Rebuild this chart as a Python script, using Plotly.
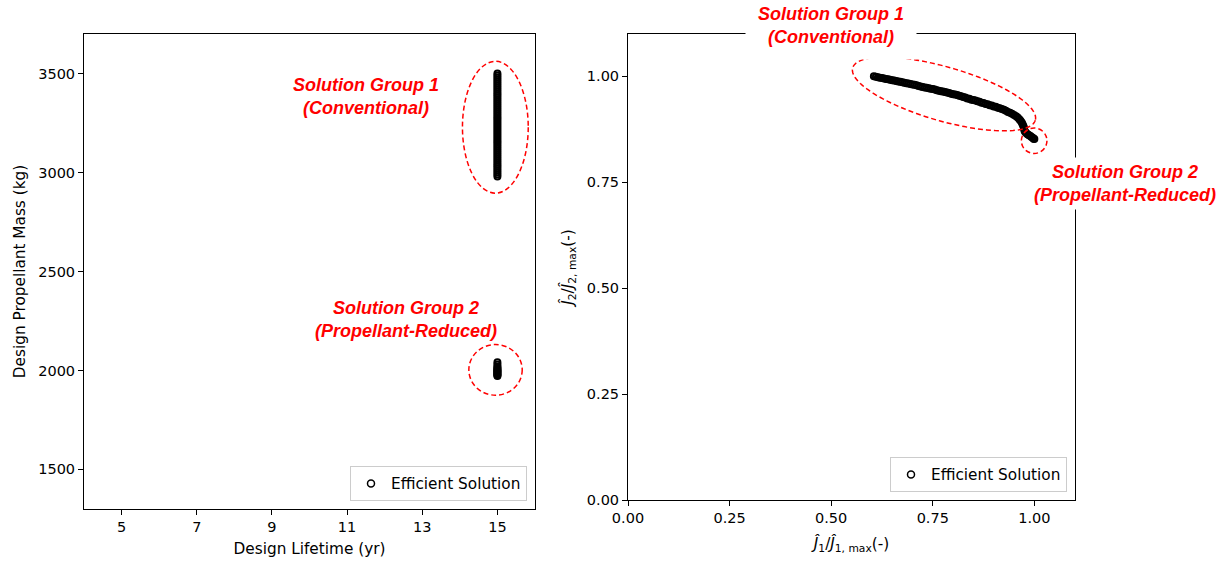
import numpy as np
import plotly.graph_objects as go

# ---------------- data ----------------
# Left panel: design lifetime (yr) vs design propellant mass (kg)
g1_mass = [2980, 2990, 3000, 3010, 3020, 3030, 3040, 3050, 3060, 3070, 3080, 3090,
           3100, 3110, 3120, 3130, 3140, 3150, 3160, 3170, 3180, 3190, 3200, 3210,
           3220, 3230, 3240, 3250, 3260, 3270, 3280, 3290, 3300, 3310, 3320, 3330,
           3340, 3350, 3360, 3370, 3380, 3390, 3400, 3410, 3420, 3430, 3440, 3450,
           3460, 3470, 3480, 3490, 3500]
g1_life = [15] * len(g1_mass)
g2_mass = [1972, 1976, 1980, 1984, 1988, 1992, 1996, 2000, 2004, 2009, 2014, 2020,
           2030, 2041]
g2_life = [15] * len(g2_mass)

# Right panel: normalised objectives
g1_j1 = [0.605, 0.610, 0.615, 0.620, 0.625, 0.630, 0.635, 0.640, 0.645, 0.650,
         0.655, 0.660, 0.665, 0.670, 0.675, 0.680, 0.685, 0.690, 0.695, 0.700,
         0.705, 0.710, 0.715, 0.720, 0.725, 0.730, 0.735, 0.740, 0.745, 0.750,
         0.755, 0.760, 0.765, 0.770, 0.775, 0.780, 0.785, 0.790, 0.795, 0.800,
         0.805, 0.810, 0.815, 0.820, 0.825, 0.830, 0.835, 0.840, 0.845, 0.850,
         0.855, 0.860, 0.865, 0.870, 0.875, 0.880, 0.885, 0.890, 0.895, 0.900,
         0.905, 0.910, 0.915, 0.920, 0.925, 0.930, 0.935, 0.940, 0.945, 0.950,
         0.955, 0.959, 0.963, 0.966, 0.969, 0.971, 0.973, 0.974, 0.975, 0.976,
         0.978]
g1_j2 = [1.000, 0.999, 0.998, 0.997, 0.996, 0.995, 0.994, 0.993, 0.992, 0.991,
         0.990, 0.989, 0.988, 0.987, 0.986, 0.985, 0.984, 0.983, 0.982, 0.981,
         0.980, 0.979, 0.977, 0.976, 0.975, 0.974, 0.973, 0.972, 0.971, 0.970,
         0.969, 0.967, 0.966, 0.965, 0.964, 0.963, 0.962, 0.961, 0.959, 0.958,
         0.957, 0.956, 0.954, 0.953, 0.951, 0.950, 0.948, 0.947, 0.945, 0.944,
         0.943, 0.941, 0.940, 0.938, 0.937, 0.935, 0.934, 0.932, 0.931, 0.929,
         0.928, 0.926, 0.925, 0.923, 0.921, 0.919, 0.916, 0.914, 0.912, 0.909,
         0.906, 0.903, 0.899, 0.895, 0.891, 0.887, 0.883, 0.879, 0.875, 0.871,
         0.868]
g2_j1 = [0.981, 0.984, 0.987, 0.990, 0.993, 0.996, 0.998, 1.000]
g2_j2 = [0.865, 0.863, 0.861, 0.859, 0.857, 0.855, 0.853, 0.852]

x_ticks_left = [5, 7, 9, 11, 13, 15]
y_ticks_left = [1500, 2000, 2500, 3000, 3500]
ticks_right = [0.0, 0.25, 0.5, 0.75, 1.0]
tick_text_right = ["0.00", "0.25", "0.50", "0.75", "1.00"]

legend_name = "Efficient Solution"
lbl_g1 = "<b><i>Solution Group 1<br>(Conventional)</i></b>"
lbl_g2 = "<b><i>Solution Group 2<br>(Propellant-Reduced)</i></b>"

# ---------------- figure ----------------
W, H = 1227, 562
FONT = "DejaVu Sans"
RED = "#ff0000"
TICK_SIZE = 14.5
TITLE_SIZE = 15.3


def px_x(p):
    return p / W


def px_y(p):
    return 1 - p / H


fig = go.Figure()
mk_data = dict(symbol="circle-open", size=6, color="black",
               line=dict(width=2, color="black"))
mk_leg = dict(symbol="circle-open", size=7, color="black",
              line=dict(width=1.5, color="black"))

# data traces
fig.add_trace(go.Scatter(x=g1_life + g2_life, y=g1_mass + g2_mass, mode="markers",
                         marker=mk_data, name=legend_name, xaxis="x", yaxis="y",
                         showlegend=False, legend="legend"))
fig.add_trace(go.Scatter(x=g1_j1 + g2_j1, y=g1_j2 + g2_j2, mode="markers",
                         marker=mk_data, name=legend_name, xaxis="x2", yaxis="y2",
                         showlegend=False, legend="legend2"))
# legend entries
fig.add_trace(go.Scatter(x=[None], y=[None], mode="markers", marker=mk_leg,
                         name=legend_name, xaxis="x", yaxis="y", legend="legend"))
fig.add_trace(go.Scatter(x=[None], y=[None], mode="markers", marker=mk_leg,
                         name=legend_name, xaxis="x2", yaxis="y2", legend="legend2"))

ax_common = dict(showline=True, linecolor="black", linewidth=1, mirror=True,
                 ticks="outside", ticklen=5, tickwidth=1, tickcolor="black",
                 showgrid=False, zeroline=False, automargin=False,
                 tickfont=dict(family=FONT, size=TICK_SIZE, color="black"))
title_font = dict(family=FONT, size=TITLE_SIZE, color="black")

fig.update_layout(
    width=W, height=H,
    margin=dict(l=0, r=0, t=0, b=0),
    paper_bgcolor="white", plot_bgcolor="white",
    font=dict(family=FONT, size=TICK_SIZE, color="black"),
    xaxis=dict(domain=[px_x(84), px_x(535)], range=[4, 16], tickvals=x_ticks_left,
               anchor="y",
               title=dict(text="Design Lifetime (yr)", standoff=8, font=title_font),
               **ax_common),
    yaxis=dict(domain=[px_y(509), px_y(34)], range=[1300, 3700], tickvals=y_ticks_left,
               anchor="x",
               title=dict(text="Design Propellant Mass (kg)", standoff=8,
                          font=title_font), **ax_common),
    xaxis2=dict(domain=[px_x(628), px_x(1075)], range=[0, 1.1], tickvals=ticks_right,
                ticktext=tick_text_right, anchor="y2",
                title=dict(text="<i>Ĵ</i><sub>1</sub>/<i>Ĵ</i><sub>1, max</sub>(-)",
                           standoff=12, font=title_font), **ax_common),
    yaxis2=dict(domain=[px_y(500), px_y(34)], range=[0, 1.1], tickvals=ticks_right,
                ticktext=tick_text_right, anchor="x2",
                title=dict(text="<i>Ĵ</i><sub>2</sub>/<i>Ĵ</i><sub>2, max</sub>(-)",
                           standoff=9, font=title_font), **ax_common),
    legend=dict(x=px_x(527), y=px_y(501), xanchor="right", yanchor="bottom",
                bgcolor="rgba(255,255,255,0.8)", bordercolor="#cccccc", borderwidth=1,
                font=dict(family=FONT, size=TITLE_SIZE), itemwidth=30),
    legend2=dict(x=px_x(1067), y=px_y(492), xanchor="right", yanchor="bottom",
                 bgcolor="rgba(255,255,255,0.8)", bordercolor="#cccccc", borderwidth=1,
                 font=dict(family=FONT, size=TITLE_SIZE), itemwidth=30),
)

dash_line = dict(color=RED, width=1.5, dash="5px,3px")

# left ellipses (axis-aligned)
fig.add_shape(type="circle", xref="x", yref="y", x0=14.07, x1=15.82, y0=2896, y1=3562,
              line=dash_line)
fig.add_shape(type="circle", xref="x", yref="y", x0=14.24, x1=15.66, y0=1875, y1=2131,
              line=dash_line)
# right small circle
fig.add_shape(type="circle", xref="x2", yref="y2", x0=0.968, x1=1.031, y0=0.818, y1=0.878,
              line=dash_line)

# right rotated ellipse (decoration, built in pixel space then mapped to data)
px_per_x2 = (1075 - 628) / 1.1
px_per_y2 = (500 - 34) / 1.1
cx, cy, a, b, th = 944, 94, 95, 27, np.deg2rad(16)
t = np.linspace(0, 2 * np.pi, 120)
ex = cx + a * np.cos(t) * np.cos(th) - b * np.sin(t) * np.sin(th)
ey = cy + a * np.cos(t) * np.sin(th) + b * np.sin(t) * np.cos(th)
dx = (ex - 628) / px_per_x2
dy = (500 - ey) / px_per_y2
path = "M " + " L ".join(f"{u:.5f},{v:.5f}" for u, v in zip(dx, dy)) + " Z"
fig.add_shape(type="path", xref="x2", yref="y2", path=path, line=dash_line)

ann_font = dict(family="Liberation Sans", size=18, color=RED)
ann_common = dict(xref="paper", yref="paper", showarrow=False, font=ann_font,
                  align="center", xanchor="center", yanchor="middle")
fig.add_annotation(x=px_x(366), y=px_y(97), text=lbl_g1, **ann_common)
fig.add_annotation(x=px_x(406), y=px_y(319), text=lbl_g2, **ann_common)
fig.add_annotation(x=px_x(831), y=px_y(25), text=lbl_g1, bgcolor="white",
                   borderpad=12, **ann_common)
fig.add_annotation(x=px_x(1125), y=px_y(183), text=lbl_g2, bgcolor="white",
                   borderpad=4, **ann_common)

fig.write_html("out.html", config={"displayModeBar": False},
               post_script="document.body.style.margin='0';")
